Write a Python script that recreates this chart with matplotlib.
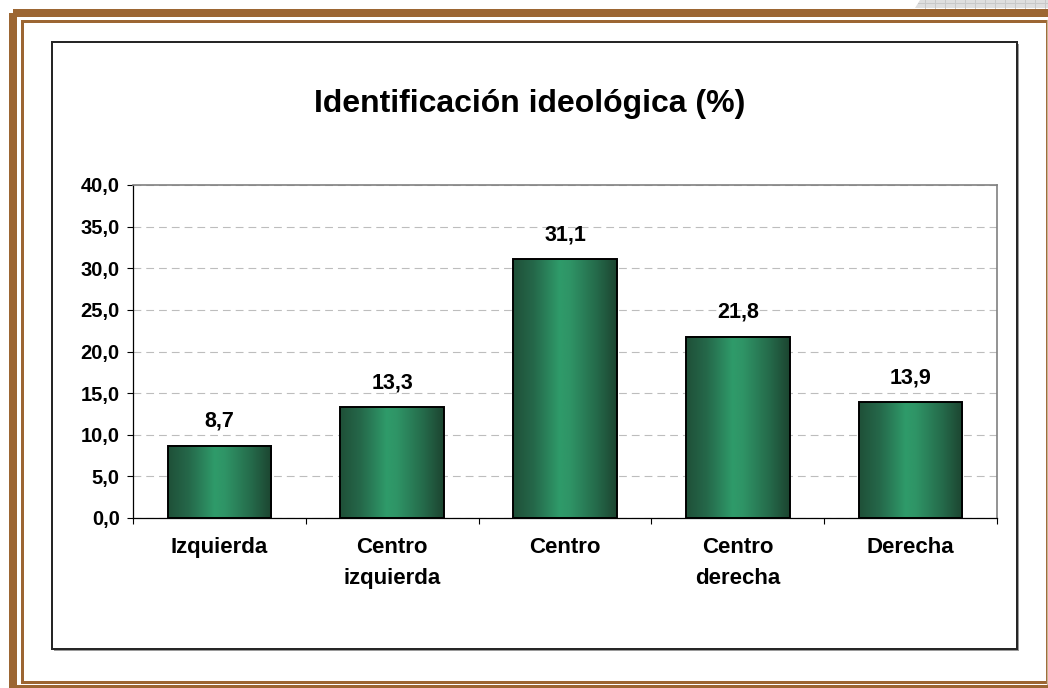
import matplotlib
matplotlib.use("Agg")
import matplotlib.pyplot as plt
import numpy as np
from matplotlib.colors import LinearSegmentedColormap
from matplotlib.patches import Rectangle, Polygon
from matplotlib.ticker import FixedLocator, FuncFormatter

plt.rcParams['font.family'] = ['Liberation Sans', 'DejaVu Sans']

categories = ["Izquierda", "Centro\nizquierda", "Centro", "Centro\nderecha", "Derecha"]
values = [8.7, 13.3, 31.1, 21.8, 13.9]
value_labels = ["8,7", "13,3", "31,1", "21,8", "13,9"]
yticks = [0, 5, 10, 15, 20, 25, 30, 35, 40]
title = "Identificación ideológica (%)"

W, H = 1048, 688
fig = plt.figure(figsize=(W / 100, H / 100), dpi=100)
fig.patch.set_facecolor("white")

# background / frame layer in pixel coordinates
bg = fig.add_axes([0, 0, 1, 1], zorder=0)
bg.set_xlim(0, W)
bg.set_ylim(H, 0)
bg.axis("off")
brown = "#9c6633"
# grey checkered strip top-right
bg.add_patch(Polygon([[920, 0], [W, 0], [W, 8], [915, 8]], closed=True,
                     facecolor="#dedede", edgecolor="none"))
for xg in range(925, W, 10):
    bg.plot([xg, xg], [0, 8], color="#c8c8c8", lw=0.7)
bg.plot([918, W], [3, 3], color="#c8c8c8", lw=0.7)
# outer thick brown frame
bg.add_patch(Rectangle((13, 12.5), W + 20, 676.5, fill=False, edgecolor=brown, lw=8 * 0.72))
# inner thin frame
bg.add_patch(Rectangle((21.5, 20.5), 1025, 661, fill=False, edgecolor=brown, lw=3 * 0.72))
bg.plot([1046.5, 1046.5], [20, 684], color="#c9b596", lw=1.2 * 0.72)
# inner chart border
bg.add_patch(Rectangle((52, 42), 965, 607, fill=False, edgecolor="#262626", lw=2 * 0.72))
bg.add_patch(Rectangle((1018, 44), 1, 606, facecolor="#9a9a9a", edgecolor="none"))
bg.add_patch(Rectangle((54, 650), 965, 1, facecolor="#9a9a9a", edgecolor="none"))

# main plot
ax = fig.add_axes([133 / W, 1 - 518 / H, (997 - 133) / W, (518 - 185) / H], zorder=2)
ax.patch.set_alpha(0)
x = np.arange(len(categories))
bars = ax.bar(x, values, width=0.6, facecolor="none", edgecolor="black", linewidth=1.4, zorder=4)

cmap = LinearSegmentedColormap.from_list("g", [
    (0.0, "#1f5038"), (0.2, "#25684a"), (0.45, "#2f9b6a"),
    (0.55, "#2f9466"), (0.8, "#256b4b"), (1.0, "#1c4430")])
grad = np.linspace(0, 1, 256).reshape(1, -1)
for b in bars:
    ax.imshow(grad, cmap=cmap, aspect="auto", interpolation="bicubic",
              extent=(b.get_x(), b.get_x() + b.get_width(), 0, b.get_height()), zorder=3)

for xi, v, lab in zip(x, values, value_labels):
    ax.annotate(lab, (xi, v), xytext=(0, 13.5), textcoords="offset points",
                ha="center", va="baseline", fontsize=15.5, fontweight="bold")

ax.set_xlim(-0.5, len(categories) - 0.5)
ax.set_ylim(0, 40)
ax.yaxis.set_major_locator(FixedLocator(yticks))
ax.yaxis.set_major_formatter(FuncFormatter(lambda v, p: f"{v:.1f}".replace(".", ",")))
ax.grid(axis="y", color="#bdbdbd", linestyle=(0, (7, 4.5)), linewidth=0.8, zorder=1)
ax.set_axisbelow(True)
ax.tick_params(axis="y", direction="out", length=4.5, width=0.8, pad=5, labelsize=14.5)
for t in ax.get_yticklabels():
    t.set_fontweight("bold")

ax.set_xticks(x)
ax.set_xticklabels(categories, fontsize=16, fontweight="bold", linespacing=1.6)
ax.tick_params(axis="x", which="major", length=0, pad=14)
ax.set_xticks(np.arange(-0.5, len(categories)), minor=True)
ax.tick_params(axis="x", which="minor", direction="out", length=4.5, width=0.8)

for s in ["left", "bottom"]:
    ax.spines[s].set_color("black")
    ax.spines[s].set_linewidth(0.9)
for s in ["top", "right"]:
    ax.spines[s].set_color("#808080")
    ax.spines[s].set_linewidth(1.2)

fig.text(530 / W, 1 - 104 / H, title, ha="center", va="center", fontsize=23, fontweight="bold")

fig.savefig("out.png", dpi=100)
